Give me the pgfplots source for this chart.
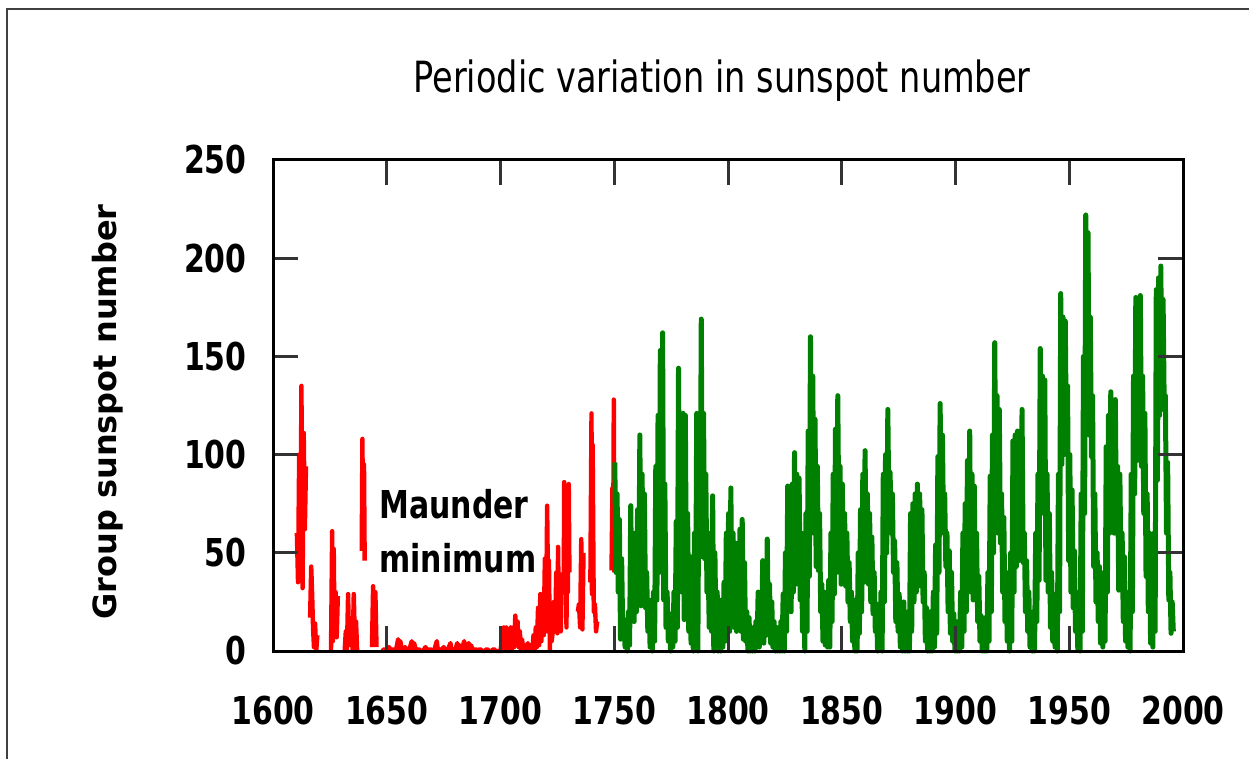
\documentclass[border=0pt]{standalone}
\usepackage{pgfplots}
\pgfplotsset{compat=1.18}
\usepackage{fontspec}
\setmainfont{DejaVu Sans}[FakeStretch=0.78]
\newfontfamily\ylabfont{DejaVu Sans}
\definecolor{sgreen}{RGB}{0,128,0}
\begin{document}
\begin{tikzpicture}[x=0.5pt,y=0.5pt]
\useasboundingbox (0,0) rectangle (1249,-759);
\fill[white] (0,0) rectangle (1249,-759);
\draw[line width=1pt, black!75] (7,-775) -- (7,-9) -- (1265,-9);
\begin{axis}[
  at={(136.5pt,-325.5pt)}, anchor=south west,
  width=455pt, height=245.5pt, scale only axis,
  xmin=1600, xmax=2000, ymin=0, ymax=250,
  xtick={1600,1650,1700,1750,1800,1850,1900,1950,2000},
  xticklabels={1600,1650,1700,1750,1800,1850,1900,1950,2000},
  ytick={0,50,100,150,200,250},
  yticklabels={0,50,100,150,200,250},
  tick align=inside, major tick length=12.5pt,
  tick style={line width=1.5pt, black!80},
  axis line style={line width=1.5pt},
  tick label style={font=\bfseries\fontsize{19.2}{22}\selectfont},
  xticklabel style={anchor=north, inner sep=0pt, yshift=-22.5pt},
  yticklabel style={anchor=east, inner sep=0pt, xshift=-13pt},
  axis on top, clip=false,
  unbounded coords=jump,
]
% group sunspot number, 1610-1750
\addplot[red, line width=2.2pt, line join=round, mark=none] coordinates {
(1610.5,60)(1611,35)(1611.5,100)(1612,40)(1612.5,135)(1613,32)(1613.5,111)(1614,62)(1614.5,94)(1615,nan)
(1616.3,17)(1616.8,43)(1617.2,29)(1617.6,12)(1618,2)(1618.5,14)(1619,0)(1619.5,8)(1620,nan)
(1625.5,0)(1626,61)(1626.3,5)(1626.7,52)(1627,15)(1627.5,30)(1628,7)(1628.5,28)(1629,nan)
(1631.5,0)(1632,10)(1632.5,0)(1633,29)(1633.5,2)(1634,nan)
(1635,0)(1635.5,29)(1636,5)(1636.5,15)(1637,0)(1637.5,nan)
(1639,51)(1639.3,108)(1639.6,60)(1640,95)(1640.3,46)(1640.6,nan)
(1643.5,2)(1644,33)(1644.5,5)(1645,30)(1645.5,2)(1646,nan)
(1648,0)(1649,1)(1650,0)(1651,2)(1652,0)(1653,1)(1654,0)(1655,6)(1655.5,0)(1656,5)(1656.5,1)(1657,0)
(1658,2)(1659,0)(1660,1)(1661,5)(1661.5,0)(1662,4)(1663,0)(1664,1)(1665,0)(1666,0)(1667,2)(1668,0)
(1669,1)(1670,0)(1671,1)(1672,5)(1672.5,0)(1673,1)(1674,0)(1675,2)(1676,0)(1677,1)(1678,4)(1678.5,0)
(1679,1)(1680,0)(1681,4)(1681.5,0)(1682,3)(1683,0)(1684,5)(1684.5,0)(1685,2)(1686,4)(1686.5,0)(1687,3)
(1688,0)(1689,1)(1690,0)(1691,1)(1692,0)(1693,0)(1694,1)(1695,0)(1696,0)(1697,1)(1698,0)(1699,0)(1700,0)
(1700.5,5)(1701,0)(1701.5,12)(1702,2)(1702.5,12)(1703,0)(1703.5,10)(1704,3)(1704.5,12)(1705,1)(1705.5,8)
(1706,2)(1706.5,18)(1707,4)(1707.5,15)(1708,2)(1708.5,10)(1709,0)(1709.5,6)(1710,0)(1710.5,3)(1711,0)
(1712,4)(1712.5,0)(1713,3)(1714,0)(1714.5,8)(1715,0)(1715.5,12)(1716,2)(1716.5,22)(1717,3)(1717.5,29)
(1718,5)(1718.5,28)(1719,8)(1719.5,47)(1720,10)(1720.5,74)(1721,20)(1721.3,46)(1721.7,0)(1722,15)
(1722.5,5)(1723,10)(1723.5,25)(1724,10)(1724.5,40)(1725,9)(1725.3,53)(1725.7,15)(1726,30)(1726.5,10)
(1727,40)(1727.5,nan)
(1727.8,35)(1728,86)(1728.3,45)(1728.6,67)(1729,12)(1729.3,60)(1729.6,30)(1730,85)(1730.3,40)(1730.6,nan)
(1734,20)(1734.5,24)(1735,12)(1735.5,57)(1736,11)(1736.5,50)(1737,nan)
(1739.5,35)(1740,121)(1740.2,29)(1740.5,105)(1741,20)(1741.5,24)(1742,10)(1742.5,15)(1743,nan)
(1748.8,41)(1749.2,83)(1749.5,45)(1749.8,128)(1750,40)
};
% 1750-1995
\addplot[sgreen, line width=2.5pt, line join=round, mark=none] coordinates {
(1750.25,96)(1750.75,40)(1751.25,80)(1751.75,30)(1752.25,67)(1752.75,6)(1753.25,47)(1753.75,9)(1754.25,16)(1754.75,2)
(1755.25,14)(1755.75,0)(1756.25,20)(1756.75,3)(1757.25,74)(1757.75,24)(1758.25,55)(1758.75,15)(1759.25,60)(1759.75,20)
(1760.25,72)(1760.75,25)(1761.25,110)(1761.75,23)(1762.25,90)(1762.75,30)(1763.25,80)(1763.75,22)(1764.25,40)(1764.75,10)
(1765.25,26)(1765.75,2)(1766.25,20)(1766.75,0)(1767.25,30)(1767.75,5)(1768.25,94)(1768.75,26)(1769.25,120)(1769.75,40)
(1770.25,153)(1770.75,60)(1771.25,162)(1771.75,26)(1772.25,85)(1772.75,12)(1773.25,30)(1773.75,5)(1774.25,19)(1774.75,0)
(1775.25,15)(1775.75,2)(1776.25,30)(1776.75,5)(1777.25,66)(1777.75,12)(1778.25,144)(1778.75,40)(1779.25,100)(1779.75,30)
(1780.25,121)(1780.75,16)(1781.25,120)(1781.75,24)(1782.25,70)(1782.75,10)(1783.25,48)(1783.75,4)(1784.25,30)(1784.75,0)
(1785.25,60)(1785.75,10)(1786.25,121)(1786.75,0)(1787.25,110)(1787.75,50)(1788.25,169)(1788.75,48)(1789.25,121)(1789.75,47)
(1790.25,90)(1790.75,30)(1791.25,45)(1791.75,12)(1792.25,60)(1792.75,10)(1793.25,79)(1793.75,0)(1794.25,50)(1794.75,5)
(1795.25,30)(1795.75,0)(1796.25,26)(1796.75,0)(1797.25,20)(1797.75,2)(1798.25,35)(1798.75,5)(1799.25,60)(1799.75,9)
(1800.25,70)(1800.75,10)(1801.25,83)(1801.75,20)(1802.25,60)(1802.75,12)(1803.25,55)(1803.75,10)(1804.25,50)(1804.75,15)
(1805.25,62)(1805.75,10)(1806.25,67)(1806.75,6)(1807.25,45)(1807.75,5)(1808.25,20)(1808.75,0)(1809.25,17)(1809.75,0)
(1810.25,12)(1810.75,0)(1811.25,10)(1811.75,0)(1812.25,15)(1812.75,2)(1813.25,30)(1813.75,2)(1814.25,25)(1814.75,5)
(1815.25,46)(1815.75,4)(1816.25,40)(1816.75,8)(1817.25,57)(1817.75,10)(1818.25,34)(1818.75,4)(1819.25,25)(1819.75,2)
(1820.25,15)(1820.75,0)(1821.25,12)(1821.75,0)(1822.25,10)(1822.75,0)(1823.25,15)(1823.75,0)(1824.25,29)(1824.75,0)
(1825.25,50)(1825.75,10)(1826.25,84)(1826.75,25)(1827.25,70)(1827.75,20)(1828.25,85)(1828.75,30)(1829.25,101)(1829.75,34)
(1830.25,90)(1830.75,35)(1831.25,88)(1831.75,26)(1832.25,60)(1832.75,10)(1833.25,51)(1833.75,0)(1834.25,70)(1834.75,10)
(1835.25,112)(1835.75,38)(1836.25,160)(1836.75,68)(1837.25,140)(1837.75,60)(1838.25,118)(1838.75,43)(1839.25,94)(1839.75,41)
(1840.25,70)(1840.75,20)(1841.25,34)(1841.75,5)(1842.25,30)(1842.75,3)(1843.25,25)(1843.75,2)(1844.25,36)(1844.75,2)
(1845.25,60)(1845.75,15)(1846.25,90)(1846.75,29)(1847.25,113)(1847.75,40)(1848.25,130)(1848.75,58)(1849.25,94)(1849.75,34)
(1850.25,85)(1850.75,35)(1851.25,70)(1851.75,33)(1852.25,60)(1852.75,25)(1853.25,45)(1853.75,15)(1854.25,30)(1854.75,5)
(1855.25,26)(1855.75,0)(1856.25,15)(1856.75,0)(1857.25,50)(1857.75,9)(1858.25,72)(1858.75,20)(1859.25,90)(1859.75,35)
(1860.25,102)(1860.75,43)(1861.25,80)(1861.75,34)(1862.25,70)(1862.75,25)(1863.25,58)(1863.75,19)(1864.25,40)(1864.75,10)
(1865.25,24)(1865.75,0)(1866.25,20)(1866.75,2)(1867.25,30)(1867.75,0)(1868.25,90)(1868.75,25)(1869.25,100)(1869.75,50)
(1870.25,123)(1870.75,68)(1871.25,91)(1871.75,60)(1872.25,80)(1872.75,40)(1873.25,56)(1873.75,15)(1874.25,45)(1874.75,10)
(1875.25,29)(1875.75,2)(1876.25,20)(1876.75,0)(1877.25,25)(1877.75,0)(1878.25,15)(1878.75,0)(1879.25,20)(1879.75,0)
(1880.25,70)(1880.75,10)(1881.25,75)(1881.75,25)(1882.25,80)(1882.75,30)(1883.25,85)(1883.75,33)(1884.25,80)(1884.75,35)
(1885.25,72)(1885.75,25)(1886.25,40)(1886.75,5)(1887.25,22)(1887.75,0)(1888.25,20)(1888.75,0)(1889.25,15)(1889.75,0)
(1890.25,30)(1890.75,2)(1891.25,54)(1891.75,9)(1892.25,99)(1892.75,40)(1893.25,126)(1893.75,68)(1894.25,110)(1894.75,60)
(1895.25,80)(1895.75,43)(1896.25,60)(1896.75,20)(1897.25,51)(1897.75,9)(1898.25,40)(1898.75,5)(1899.25,19)(1899.75,0)
(1900.25,15)(1900.75,0)(1901.25,12)(1901.75,0)(1902.25,30)(1902.75,2)(1903.25,60)(1903.75,10)(1904.25,75)(1904.75,20)
(1905.25,97)(1905.75,34)(1906.25,112)(1906.75,30)(1907.25,90)(1907.75,26)(1908.25,84)(1908.75,26)(1909.25,60)(1909.75,15)
(1910.25,38)(1910.75,5)(1911.25,18)(1911.75,0)(1912.25,15)(1912.75,0)(1913.25,17)(1913.75,0)(1914.25,40)(1914.75,5)
(1915.25,89)(1915.75,20)(1916.25,110)(1916.75,50)(1917.25,157)(1917.75,72)(1918.25,130)(1918.75,60)(1919.25,123)(1919.75,55)
(1920.25,80)(1920.75,30)(1921.25,68)(1921.75,15)(1922.25,40)(1922.75,5)(1923.25,33)(1923.75,0)(1924.25,50)(1924.75,5)
(1925.25,107)(1925.75,30)(1926.25,110)(1926.75,43)(1927.25,112)(1927.75,46)(1928.25,100)(1928.75,50)(1929.25,123)(1929.75,45)
(1930.25,60)(1930.75,20)(1931.25,46)(1931.75,10)(1932.25,30)(1932.75,2)(1933.25,18)(1933.75,0)(1934.25,20)(1934.75,0)
(1935.25,60)(1935.75,15)(1936.25,90)(1936.75,36)(1937.25,154)(1937.75,85)(1938.25,140)(1938.75,70)(1939.25,138)(1939.75,36)
(1940.25,90)(1940.75,30)(1941.25,70)(1941.75,12)(1942.25,40)(1942.75,5)(1943.25,29)(1943.75,2)(1944.25,20)(1944.75,0)
(1945.25,90)(1945.75,20)(1946.25,182)(1946.75,95)(1947.25,170)(1947.75,100)(1948.25,168)(1948.75,104)(1949.25,135)(1949.75,46)
(1950.25,100)(1950.75,30)(1951.25,82)(1951.75,22)(1952.25,51)(1952.75,10)(1953.25,30)(1953.75,1)(1954.25,20)(1954.75,0)
(1955.25,80)(1955.75,10)(1956.25,150)(1956.75,70)(1957.25,222)(1957.75,128)(1958.25,213)(1958.75,110)(1959.25,170)(1959.75,99)
(1960.25,130)(1960.75,43)(1961.25,80)(1961.75,25)(1962.25,50)(1962.75,15)(1963.25,43)(1963.75,4)(1964.25,20)(1964.75,2)
(1965.25,40)(1965.75,5)(1966.25,104)(1966.75,30)(1967.25,120)(1967.75,60)(1968.25,132)(1968.75,73)(1969.25,125)(1969.75,60)
(1970.25,128)(1970.75,60)(1971.25,94)(1971.75,31)(1972.25,90)(1972.75,40)(1973.25,60)(1973.75,15)(1974.25,48)(1974.75,5)
(1975.25,30)(1975.75,2)(1976.25,25)(1976.75,0)(1977.25,90)(1977.75,20)(1978.25,140)(1978.75,80)(1979.25,180)(1979.75,97)
(1980.25,175)(1980.75,110)(1981.25,181)(1981.75,94)(1982.25,140)(1982.75,70)(1983.25,121)(1983.75,38)(1984.25,80)(1984.75,20)
(1985.25,60)(1985.75,4)(1986.25,38)(1986.75,2)(1987.25,60)(1987.75,10)(1988.25,184)(1988.75,87)(1989.25,190)(1989.75,120)
(1990.25,196)(1990.75,123)(1991.25,179)(1991.75,124)(1992.25,130)(1992.75,60)(1993.25,96)(1993.75,26)(1994.25,40)(1994.75,9)
(1995.25,25)(1995.75,10)
};
\end{axis}
\node[anchor=base, inner sep=0pt, font=\fontsize{21.5}{24}\selectfont] at (722,-93) {Periodic variation in sunspot number};
\node[rotate=90, inner sep=0pt, font=\ylabfont\bfseries\fontsize{16}{19}\selectfont] at (108,-412) {Group sunspot number};
\node[anchor=base west, inner sep=0pt, font=\bfseries\fontsize{19.2}{22}\selectfont] at (379,-518) {Maunder};
\node[anchor=base west, inner sep=0pt, font=\bfseries\fontsize{19.2}{22}\selectfont] at (379,-573) {minimum};
\end{tikzpicture}
\end{document}
